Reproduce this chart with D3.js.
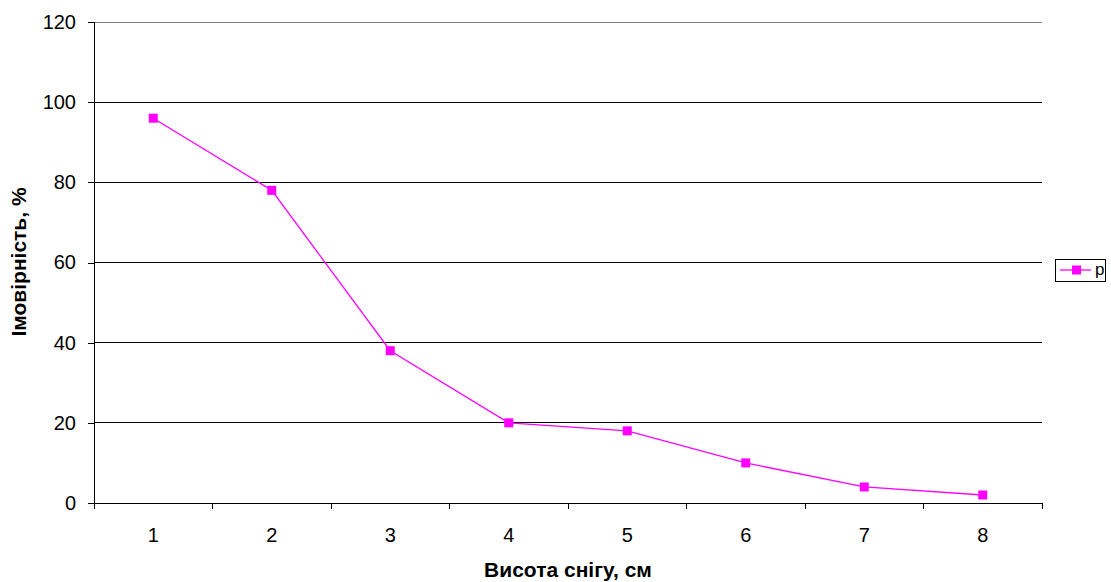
<!DOCTYPE html>
<html>
<head>
<meta charset="utf-8">
<script src="https://cdn.jsdelivr.net/npm/d3@7"></script>
<style>
  body { margin: 0; background: #fff; }
  text { font-family: "Liberation Sans", Arial, sans-serif; }
</style>
</head>
<body>
<div id="chart"></div>
<script>
// data
var heights = ["1", "2", "3", "4", "5", "6", "7", "8"];
var probability = [96, 78, 38, 20, 18, 10, 4, 2];
var yTicks = [0, 20, 40, 60, 80, 100, 120];
var seriesName = "p";

var svgWidth = 1111;
var svgHeight = 582;

var margin = { top: 22, right: 69, bottom: 79, left: 94 };
var width = svgWidth - margin.left - margin.right;
var height = svgHeight - margin.top - margin.bottom;

var svg = d3.select("#chart")
  .append("svg")
  .attr("width", svgWidth)
  .attr("height", svgHeight);

var g = svg.append("g")
  .attr("transform", `translate(${margin.left},${margin.top})`);

// scales
var x = d3.scaleBand()
  .domain(heights)
  .range([0, width]);

var y = d3.scaleLinear()
  .domain([0, 120])
  .range([height, 0]);

// horizontal gridlines
g.selectAll("line.grid")
  .data(yTicks.filter(d => d > 0))
  .enter()
  .append("line")
  .attr("class", "grid")
  .attr("x1", 0)
  .attr("x2", width)
  .attr("y1", d => y(d))
  .attr("y2", d => y(d))
  .attr("stroke", d => d === 120 ? "#808080" : "#000")
  .attr("stroke-width", 1)
  .attr("shape-rendering", "crispEdges");

// y axis
var yAxis = g.append("g")
  .call(d3.axisLeft(y).tickValues(yTicks).tickSize(6).tickPadding(12));
yAxis.selectAll("text").attr("font-size", 20).attr("fill", "#000");
yAxis.select(".domain").attr("stroke", "#000").attr("shape-rendering", "crispEdges");
yAxis.selectAll(".tick line").attr("stroke", "#000").attr("shape-rendering", "crispEdges");

// x axis: ticks at band boundaries
var xAxis = g.append("g")
  .attr("transform", `translate(0,${height})`);
xAxis.append("line")
  .attr("x1", 0).attr("x2", width)
  .attr("stroke", "#000")
  .attr("shape-rendering", "crispEdges");
var bounds = heights.map(d => x(d)).concat([width]);
xAxis.selectAll("line.tick")
  .data(bounds)
  .enter()
  .append("line")
  .attr("class", "tick")
  .attr("x1", d => d).attr("x2", d => d)
  .attr("y1", 0).attr("y2", 6)
  .attr("stroke", "#000")
  .attr("shape-rendering", "crispEdges");
xAxis.selectAll("text")
  .data(heights)
  .enter()
  .append("text")
  .attr("x", d => x(d) + x.bandwidth() / 2)
  .attr("y", 39)
  .attr("text-anchor", "middle")
  .attr("font-size", 20)
  .text(d => d);

// line
var line = d3.line()
  .x((d, i) => x(heights[i]) + x.bandwidth() / 2)
  .y(d => y(d));

g.append("path")
  .datum(probability)
  .attr("d", line)
  .attr("fill", "none")
  .attr("stroke", "#ff00ff")
  .attr("stroke-width", 1.3);

g.selectAll("rect.marker")
  .data(probability)
  .enter()
  .append("rect")
  .attr("class", "marker")
  .attr("x", (d, i) => x(heights[i]) + x.bandwidth() / 2 - 4.5)
  .attr("y", d => y(d) - 4.5)
  .attr("width", 9)
  .attr("height", 9)
  .attr("fill", "#ff00ff");

// axis titles
svg.append("text")
  .attr("x", 568)
  .attr("y", 577)
  .attr("text-anchor", "middle")
  .attr("font-size", 21)
  .attr("font-weight", "bold")
  .text("Висота снігу, см");

svg.append("text")
  .attr("transform", `translate(26,262) rotate(-90)`)
  .attr("text-anchor", "middle")
  .attr("font-size", 21)
  .attr("font-weight", "bold")
  .text("Імовірність, %");

// legend
var legend = svg.append("g")
  .attr("transform", "translate(1055,259)");
legend.append("rect")
  .attr("width", 50)
  .attr("height", 22)
  .attr("fill", "#fff")
  .attr("stroke", "#000")
  .attr("shape-rendering", "crispEdges");
legend.append("line")
  .attr("x1", 5).attr("x2", 36)
  .attr("y1", 11).attr("y2", 11)
  .attr("stroke", "#ff00ff")
  .attr("stroke-width", 1.3);
legend.append("rect")
  .attr("x", 17).attr("y", 6.5)
  .attr("width", 9).attr("height", 9)
  .attr("fill", "#ff00ff");
legend.append("text")
  .attr("x", 40)
  .attr("y", 16)
  .attr("font-size", 17)
  .text(seriesName);
</script>
</body>
</html>
